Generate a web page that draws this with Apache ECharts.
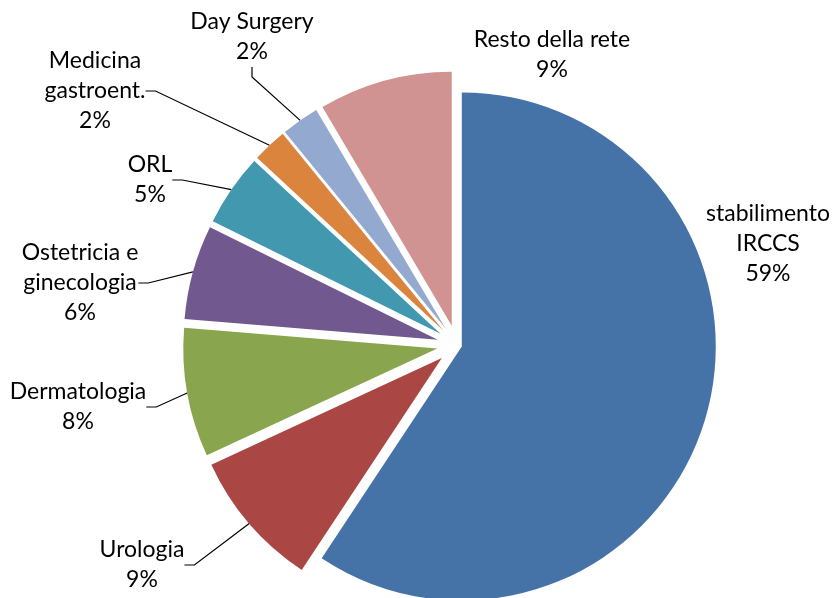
<!DOCTYPE html>
<html>
<head>
<meta charset="utf-8">
<title>Pie</title>
<script src="https://cdn.jsdelivr.net/npm/echarts@6/dist/echarts.min.js"></script>
<style>
  html, body { margin: 0; padding: 0; background: #fff; }
  #chart { width: 834px; height: 598px; }
</style>
</head>
<body>
<div id="chart"></div>
<script>
// data (shares in %)
const categories = ['stabilimento\nIRCCS', 'Urologia', 'Dermatologia', 'Ostetricia e\nginecologia', 'ORL', 'Medicina\ngastroent.', 'Day Surgery', 'Resto della rete'];
const shares = [59.3, 8.8, 8.2, 6.0, 4.6, 2.2, 2.4, 8.5];
const colors = ['#4572A7', '#AA4643', '#89A54E', '#71588F', '#4198AF', '#DB843D', '#93A9CF', '#D19392'];

// layout only: label anchors, leader lines, how far each slice is pulled out
const labelAt = [[768, 244], [142, 565], [78, 407], [80, 283], [150, 180], [95, 91], [252, 37], [552, 55]];
const hasLeader = [false, true, true, true, true, true, true, false];
const explode = [5, 20, 20, 20, 20, 20, 20, 20];
const pieCenter = [457, 345];
const pieRadius = 254;

const total = shares.reduce((a, b) => a + b, 0);

// one series per slice so every slice can be pulled out along its own middle
function sliceSeries(k) {
  let before = 0;
  for (let i = 0; i < k; i++) before += shares[i];
  const mid = (before + shares[k] / 2) / total * 2 * Math.PI;
  const cx = pieCenter[0] + explode[k] * Math.sin(mid);
  const cy = pieCenter[1] - explode[k] * Math.cos(mid);

  const data = categories.map((name, i) => ({
    name: name,
    value: shares[i],
    itemStyle: { color: i === k ? colors[i] : 'transparent' },
    label: { show: i === k },
    labelLine: { show: i === k && hasLeader[i] }
  }));

  return {
    type: 'pie',
    center: [cx, cy],
    radius: pieRadius,
    startAngle: 90,
    clockwise: true,
    avoidLabelOverlap: false,
    animation: false,
    silent: true,
    emphasis: { disabled: true },
    itemStyle: { borderWidth: 0 },
    label: {
      position: 'outside',
      color: '#000',
      fontFamily: 'Lato',
      fontSize: 23,
      lineHeight: 30,
      align: 'center',
      formatter: p => p.name + '\n' + Math.round(p.percent) + '%'
    },
    labelLine: {
      length: 10,
      length2: 10,
      lineStyle: { color: '#000', width: 1.2 }
    },
    labelLayout: function (params) {
      if (params.dataIndex !== k) return {};
      const p = labelAt[k];
      return { x: p[0], y: p[1], align: 'center', verticalAlign: 'middle' };
    },
    data: data
  };
}

const chart = echarts.init(document.getElementById('chart'));
chart.setOption({
  backgroundColor: '#fff',
  animation: false,
  series: categories.map((c, k) => sliceSeries(k))
});
</script>
</body>
</html>
